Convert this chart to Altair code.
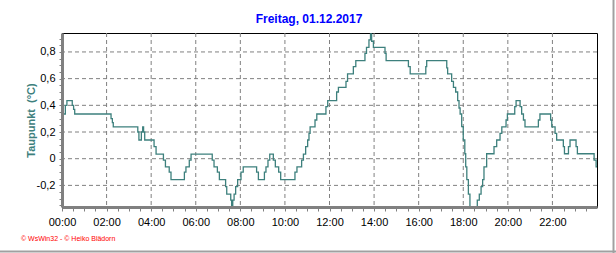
import altair as alt
import pandas as pd

TITLE = ["Freitag, 01.12.2017"]
Y_TITLE = "Taupunkt\u00a0\u00a0(°C)"
FOOTER = ["© WsWin32  -  © Heiko Blädorn"]

# time of day (hours) where the reading changes, and the reading from then on (step-after)
hours = [
    0.00, 0.15, 0.22, 0.46, 0.52, 0.57, 2.20, 2.26, 2.30, 3.40, 3.45, 3.56, 3.62, 3.66, 3.71,
    4.13, 4.22, 4.55, 4.64, 4.81, 4.89, 5.49, 5.56, 5.71, 5.79, 6.74, 6.82, 6.97, 7.06,
    7.34, 7.39, 7.57, 7.61, 7.66, 7.72, 7.79, 7.88, 8.03, 8.13, 8.73, 8.81, 9.08, 9.15,
    9.24, 9.32, 9.48, 9.57, 9.72, 9.81, 10.45, 10.54, 10.75, 10.83, 10.93, 11.02, 11.08,
    11.13, 11.35, 11.43, 11.84, 11.92, 12.32, 12.40, 12.74, 12.81, 13.07, 13.18, 13.59,
    13.66, 13.77, 13.84, 13.89, 13.97, 14.49, 14.54, 15.54, 15.62, 16.32, 16.36, 17.26,
    17.30, 17.48, 17.56, 17.66, 17.75, 17.81, 17.86, 17.93, 18.00, 18.07, 18.11, 18.16,
    18.23, 18.30, 18.63, 18.72, 18.80, 18.87, 18.93, 19.05, 19.38, 19.50, 19.65, 19.73,
    19.92, 19.98, 20.31, 20.37, 20.55, 20.62, 20.70, 20.77, 21.37, 21.44, 21.92, 21.97,
    22.12, 22.19, 22.49, 22.54, 22.72, 22.79, 23.06, 23.12, 23.87, 23.96, 24.00,
]
dewpoint = [
    0.335, 0.40, 0.435, 0.40, 0.37, 0.335, 0.30, 0.27, 0.238, 0.20, 0.14, 0.20, 0.238, 0.20, 0.14,
    0.09, 0.035, -0.01, -0.062, -0.10, -0.157, -0.10, -0.062, -0.01, 0.035, -0.01, -0.062, -0.10, -0.157,
    -0.21, -0.265, -0.31, -0.36, -0.31, -0.265, -0.21, -0.157, -0.10, -0.062, -0.10, -0.157, -0.10, -0.062,
    -0.01, 0.035, -0.01, -0.062, -0.10, -0.157, -0.10, -0.062, -0.01, 0.035, 0.09, 0.14, 0.19,
    0.238, 0.29, 0.335, 0.39, 0.435, 0.50, 0.535, 0.58, 0.635, 0.69, 0.735, 0.79,
    0.835, 0.89, 0.935, 0.88, 0.835, 0.79, 0.735, 0.69, 0.635, 0.69, 0.735, 0.68,
    0.635, 0.58, 0.535, 0.50, 0.435, 0.38, 0.335, 0.24, 0.14, 0.037, -0.062, -0.157,
    -0.265, -0.36, -0.31, -0.265, -0.21, -0.157, -0.062, 0.037, 0.09, 0.14, 0.19, 0.238,
    0.29, 0.335, 0.39, 0.435, 0.39, 0.335, 0.29, 0.238, 0.29, 0.335, 0.29, 0.238,
    0.19, 0.14, 0.09, 0.037, 0.09, 0.14, 0.09, 0.037, -0.01, -0.062, -0.062,
]

x_grid = [2, 4, 6, 8, 10, 12, 14, 16, 18, 20, 22]
x_ticks = [0, 0.5, 1, 1.5, 2, 2.5, 3, 3.5, 4, 4.5, 5, 5.5, 6, 6.5, 7, 7.5, 8, 8.5, 9, 9.5,
           10, 10.5, 11, 11.5, 12, 12.5, 13, 13.5, 14, 14.5, 15, 15.5, 16, 16.5, 17, 17.5,
           18, 18.5, 19, 19.5, 20, 20.5, 21, 21.5, 22, 22.5, 23, 23.5]
y_grid = [-0.2, 0, 0.2, 0.4, 0.6, 0.8]
y_ticks = [-0.35, -0.3, -0.25, -0.2, -0.15, -0.1, -0.05, 0, 0.05, 0.1, 0.15, 0.2, 0.25,
           0.3, 0.35, 0.4, 0.45, 0.5, 0.55, 0.6, 0.65, 0.7, 0.75, 0.8, 0.85, 0.9]

LINE_COLOR = "#3D807D"
GRID_COLOR = "#808080"
FONT = "Liberation Sans"

W, H = 535, 174

xscale = alt.Scale(domain=[0, 24], nice=False, zero=False)
yscale = alt.Scale(domain=[-0.362, 0.942], nice=False, zero=False)

x_label = "datum.value % 2 == 0 ? ((datum.value < 10 ? '0' : '') + datum.value + ':00') : ''"
y_label = ("abs(round(datum.value * 100) % 20) == 0 ? (abs(datum.value) < 0.001 ? '0' : "
           "((datum.value < 0 ? '-' : '') + replace(format(abs(datum.value), '.1f'), '.', ','))) : ''")

x_axis = alt.Axis(
    values=x_ticks, labelExpr=x_label, title=None, grid=False,
    domainColor=GRID_COLOR, domainWidth=3, tickColor=GRID_COLOR, tickSize=4,
    labelFontSize=11, labelColor="#000000", labelPadding=5, labelFont=FONT,
    labelOverlap=False, labelFlush=False, zindex=1)
y_axis = alt.Axis(
    values=y_ticks, labelExpr=y_label, title=Y_TITLE, grid=False,
    domainColor=GRID_COLOR, domainWidth=3, tickColor=GRID_COLOR, tickSize=3,
    labelFontSize=11, labelColor="#000000", labelPadding=4, labelFont=FONT,
    labelOverlap=False, labelFlush=False,
    titleColor=LINE_COLOR, titleFontSize=11, titleFontWeight="bold", titleFont=FONT,
    titlePadding=0, zindex=1)

df = pd.DataFrame({"h": hours, "v": dewpoint})

hgrid = alt.Chart(pd.DataFrame({"v": y_grid})).mark_rule(
    color=GRID_COLOR, strokeDash=[4, 3], strokeWidth=1
).encode(y=alt.Y("v:Q", scale=yscale, axis=y_axis))

vgrid = alt.Chart(pd.DataFrame({"h": x_grid})).mark_rule(
    color=GRID_COLOR, strokeDash=[4, 3], strokeWidth=1
).encode(x=alt.X("h:Q", scale=xscale, axis=x_axis))

line = alt.Chart(df).mark_line(
    interpolate="step-after", color=LINE_COLOR, strokeWidth=1.3
).encode(
    x=alt.X("h:Q", scale=xscale, axis=x_axis),
    y=alt.Y("v:Q", scale=yscale, axis=y_axis),
)

title = alt.Chart(pd.DataFrame({"t": TITLE})).mark_text(
    align="center", baseline="middle", fontSize=12, fontWeight="bold",
    color="#0000FF", font=FONT
).encode(x=alt.value(247), y=alt.value(-14.5), text="t:N")

footer = alt.Chart(pd.DataFrame({"t": FOOTER})).mark_text(
    align="left", baseline="middle", fontSize=7, color="#FF0000", font=FONT
).encode(x=alt.value(-41), y=alt.value(206), text="t:N")

frame = pd.DataFrame({"k": [1]})
frame_right = alt.Chart(frame).mark_rule(color="#A0A0A0", strokeWidth=2).encode(
    x=alt.value(551.5), y=alt.value(-33), y2=alt.value(220))
frame_bottom = alt.Chart(frame).mark_rule(color="#A0A0A0", strokeWidth=2).encode(
    x=alt.value(-62), x2=alt.value(554), y=alt.value(218.5))

chart = alt.layer(hgrid, vgrid, line, title, footer, frame_right, frame_bottom).properties(
    width=W, height=H,
    autosize=alt.AutoSizeParams(type="none"),
    padding={"left": 62, "top": 33, "right": 19, "bottom": 46},
    background="#FFFFFF",
).configure_view(stroke="#000000", strokeWidth=1)

chart.save("out.html", embed_options={"renderer": "svg", "actions": False})
